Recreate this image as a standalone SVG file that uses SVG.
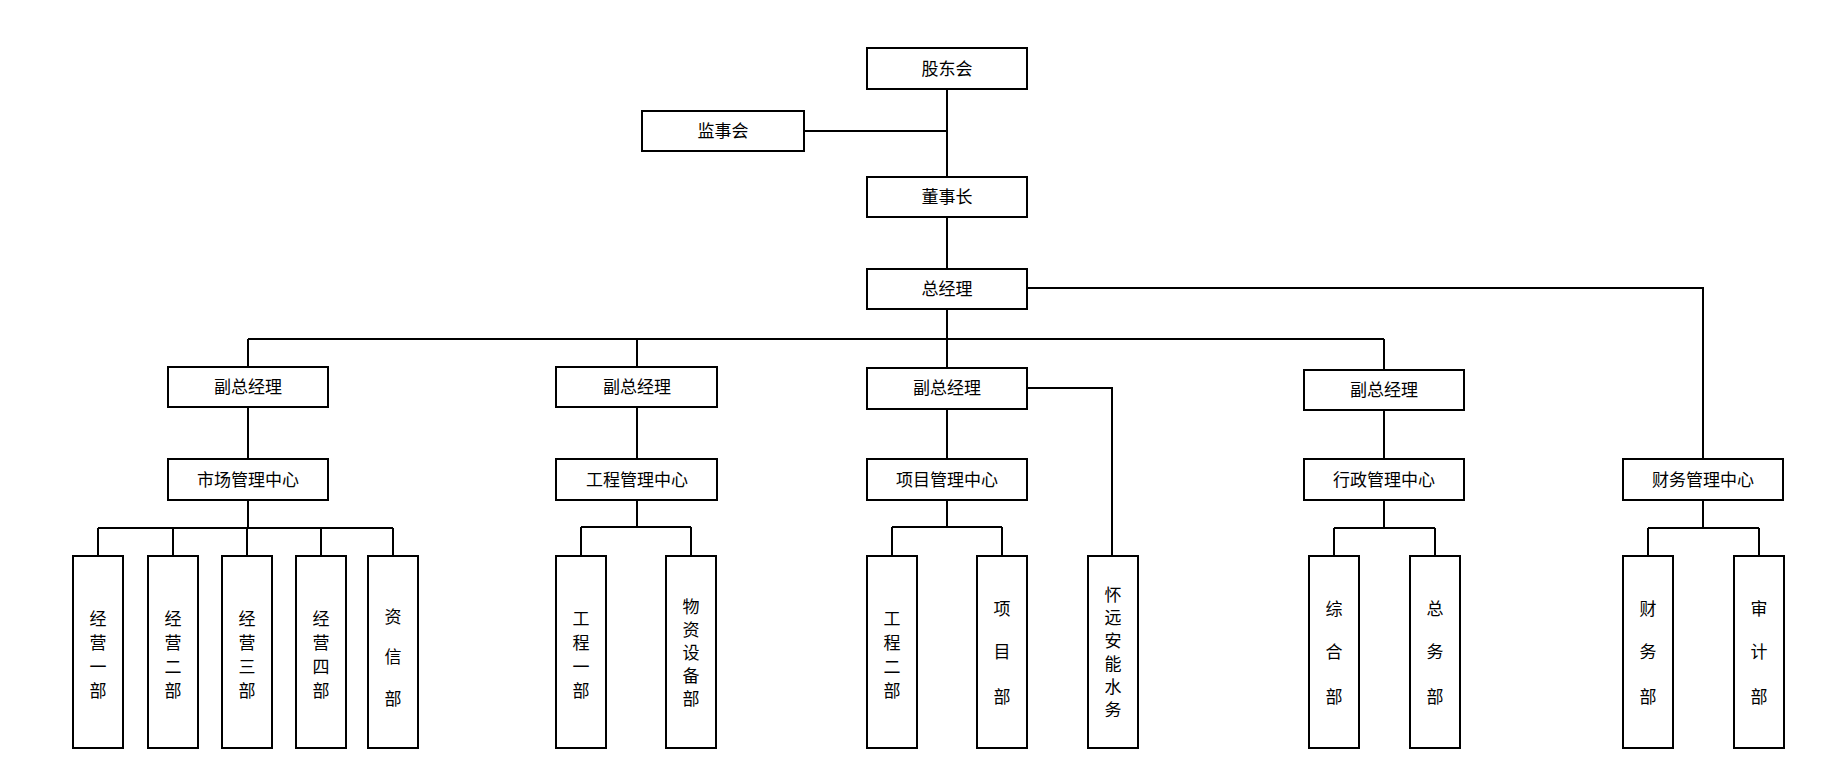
<svg xmlns="http://www.w3.org/2000/svg" width="1843" height="775" viewBox="0 0 1843 775">
<style>
rect{fill:#fff;stroke:#000;stroke-width:2}
text{font-family:"Noto Sans CJK SC","Liberation Serif",sans-serif;font-size:17px;fill:#000;text-anchor:middle}
.c path{fill:none;stroke:#000;stroke-width:2}
</style>
<rect x="0" y="0" width="1843" height="775" style="stroke:none"/>
<g class="c">
<path d="M947 89V177M804 131H947M947 217V269M947 309V368M248 339H1384M248 339V367M637 339V367M1384 339V370M1027 288H1703V459M1027 388H1112V556"/>
<path d="M248 407V459M637 407V459M947 409V459M1384 410V459"/>
<path d="M248 500V528M98 528H393M98 528V556M173 528V556M247 528V556M321 528V556M393 528V556"/>
<path d="M637 500V527M581 527H691M581 527V556M691 527V556"/>
<path d="M947 500V527M892 527H1002M892 527V556M1002 527V556"/>
<path d="M1384 500V528M1334 528H1435M1334 528V556M1435 528V556"/>
<path d="M1703 500V528M1648 528H1759M1648 528V556M1759 528V556"/>
</g>
<g id="gdh"><rect x="867" y="48" width="160" height="41"/><text x="947" y="75">股东会</text></g>
<g id="jsh"><rect x="642" y="111" width="162" height="40"/><text x="723" y="137">监事会</text></g>
<g id="dsz"><rect x="867" y="177" width="160" height="40"/><text x="947" y="203">董事长</text></g>
<g id="zjl"><rect x="867" y="269" width="160" height="40"/><text x="947" y="295">总经理</text></g>
<g id="fz1"><rect x="168" y="367" width="160" height="40"/><text x="248" y="393">副总经理</text></g>
<g id="fz2"><rect x="556" y="367" width="161" height="40"/><text x="637" y="393">副总经理</text></g>
<g id="fz3"><rect x="867" y="368" width="160" height="41"/><text x="947" y="394">副总经理</text></g>
<g id="fz4"><rect x="1304" y="370" width="160" height="40"/><text x="1384" y="396">副总经理</text></g>
<g id="sc"><rect x="168" y="459" width="160" height="41"/><text x="248" y="486">市场管理中心</text></g>
<g id="gc"><rect x="556" y="459" width="161" height="41"/><text x="637" y="486">工程管理中心</text></g>
<g id="xm"><rect x="867" y="459" width="160" height="41"/><text x="947" y="486">项目管理中心</text></g>
<g id="xz"><rect x="1304" y="459" width="160" height="41"/><text x="1384" y="486">行政管理中心</text></g>
<g id="cw"><rect x="1623" y="459" width="160" height="41"/><text x="1703" y="486">财务管理中心</text></g>
<g id="l1"><rect x="73" y="556" width="50" height="192"/><text x="98" y="625">经</text><text x="98" y="649">营</text><text x="98" y="673">一</text><text x="98" y="697">部</text></g>
<g id="l2"><rect x="148" y="556" width="50" height="192"/><text x="173" y="625">经</text><text x="173" y="649">营</text><text x="173" y="673">二</text><text x="173" y="697">部</text></g>
<g id="l3"><rect x="222" y="556" width="50" height="192"/><text x="247" y="625">经</text><text x="247" y="649">营</text><text x="247" y="673">三</text><text x="247" y="697">部</text></g>
<g id="l4"><rect x="296" y="556" width="50" height="192"/><text x="321" y="625">经</text><text x="321" y="649">营</text><text x="321" y="673">四</text><text x="321" y="697">部</text></g>
<g id="l5"><rect x="368" y="556" width="50" height="192"/><text x="393" y="623">资</text><text x="393" y="663">信</text><text x="393" y="705">部</text></g>
<g id="l6"><rect x="556" y="556" width="50" height="192"/><text x="581" y="625">工</text><text x="581" y="649">程</text><text x="581" y="673">一</text><text x="581" y="697">部</text></g>
<g id="l7"><rect x="666" y="556" width="50" height="192"/><text x="691" y="613">物</text><text x="691" y="636">资</text><text x="691" y="659">设</text><text x="691" y="682">备</text><text x="691" y="705">部</text></g>
<g id="l8"><rect x="867" y="556" width="50" height="192"/><text x="892" y="625">工</text><text x="892" y="649">程</text><text x="892" y="673">二</text><text x="892" y="697">部</text></g>
<g id="l9"><rect x="977" y="556" width="50" height="192"/><text x="1002" y="615">项</text><text x="1002" y="658">目</text><text x="1002" y="703">部</text></g>
<g id="l10"><rect x="1088" y="556" width="50" height="192"/><text x="1113" y="601">怀</text><text x="1113" y="624">远</text><text x="1113" y="647">安</text><text x="1113" y="670">能</text><text x="1113" y="693">水</text><text x="1113" y="716">务</text></g>
<g id="l11"><rect x="1309" y="556" width="50" height="192"/><text x="1334" y="615">综</text><text x="1334" y="658">合</text><text x="1334" y="703">部</text></g>
<g id="l12"><rect x="1410" y="556" width="50" height="192"/><text x="1435" y="615">总</text><text x="1435" y="658">务</text><text x="1435" y="703">部</text></g>
<g id="l13"><rect x="1623" y="556" width="50" height="192"/><text x="1648" y="615">财</text><text x="1648" y="658">务</text><text x="1648" y="703">部</text></g>
<g id="l14"><rect x="1734" y="556" width="50" height="192"/><text x="1759" y="615">审</text><text x="1759" y="658">计</text><text x="1759" y="703">部</text></g>
</svg>
